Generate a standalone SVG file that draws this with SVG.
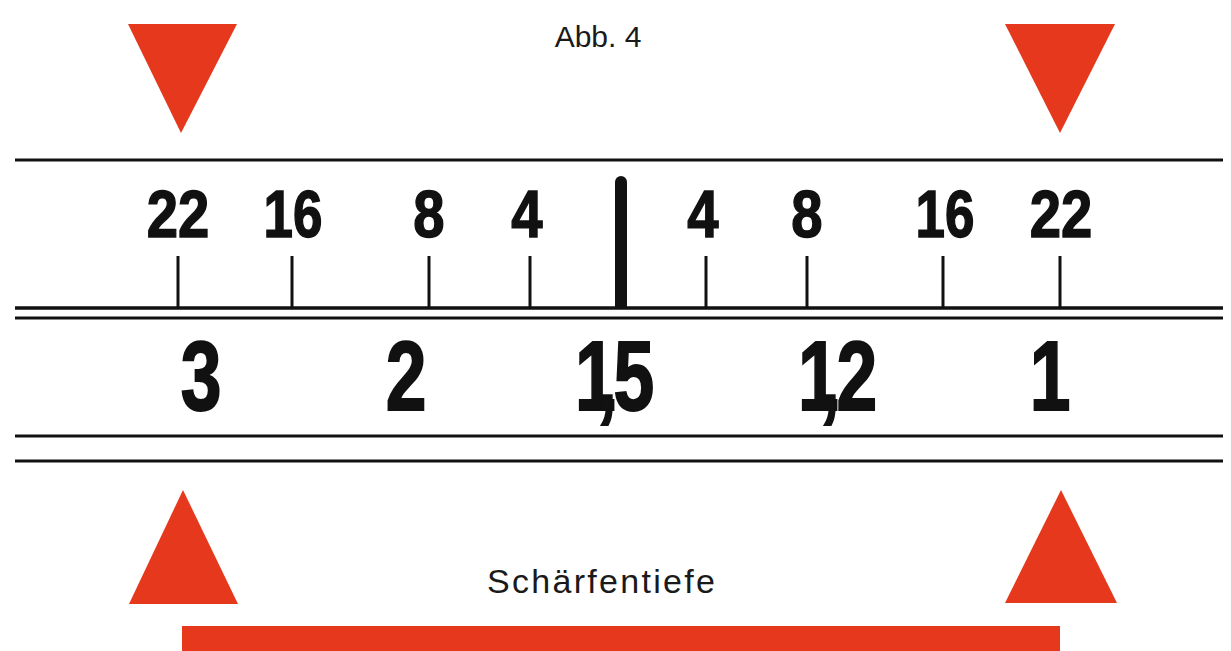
<svg xmlns="http://www.w3.org/2000/svg" width="1231" height="651" viewBox="0 0 1231 651">
<style>
.red{fill:#e5381c}
.ln{stroke:#111;stroke-width:3;fill:none}
.tk{stroke:#111;stroke-width:3}
.ap{font-family:"Liberation Sans",Arial,sans-serif;font-weight:bold;font-size:67px;fill:#111;stroke:#111;stroke-width:1.5;text-anchor:middle}
.dist{font-family:"Liberation Sans",Arial,sans-serif;font-weight:bold;font-size:99px;fill:#111;stroke:#111;stroke-width:2}
.lbl{font-family:"Liberation Sans",Arial,sans-serif;font-size:30px;fill:#1a1a1a;text-anchor:middle}
</style>
<rect width="1231" height="651" fill="#fff"/>
<g id="title"><text class="lbl" x="598" y="47">Abb. 4</text></g>
<g id="markers-top">
<polygon class="red" points="128,24 237,24 181,133"/>
<polygon class="red" points="1005,24 1115,24 1060,133"/>
</g>
<g id="scale-lines">
<line class="ln" x1="15" y1="160" x2="1223" y2="160"/>
<line class="ln" x1="15" y1="308" x2="1223" y2="308" style="stroke-width:3.5"/>
<line class="ln" x1="15" y1="318" x2="1223" y2="318"/>
<line class="ln" x1="15" y1="436" x2="1223" y2="436"/>
<line class="ln" x1="15" y1="461" x2="1223" y2="461"/>
</g>
<g id="ticks">
<line class="tk" x1="178" y1="256" x2="178" y2="308"/>
<line class="tk" x1="292" y1="256" x2="292" y2="308"/>
<line class="tk" x1="429" y1="256" x2="429" y2="308"/>
<line class="tk" x1="530" y1="256" x2="530" y2="308"/>
<line class="tk" x1="706" y1="256" x2="706" y2="308"/>
<line class="tk" x1="807" y1="256" x2="807" y2="308"/>
<line class="tk" x1="943" y1="256" x2="943" y2="308"/>
<line class="tk" x1="1060" y1="256" x2="1060" y2="308"/>
<path id="index" d="M615,308 V182 a6,6 0 0 1 12,0 V308 Z" fill="#111"/>
</g>
<g id="apertures">
<text class="ap" transform="translate(178,237) scale(0.84,1)">22</text>
<text class="ap" transform="translate(293,237) scale(0.79,1)">16</text>
<text class="ap" transform="translate(429,237) scale(0.84,1)">8</text>
<text class="ap" transform="translate(527,237) scale(0.84,1)">4</text>
<text class="ap" transform="translate(703,237) scale(0.84,1)">4</text>
<text class="ap" transform="translate(807,237) scale(0.84,1)">8</text>
<text class="ap" transform="translate(945,237) scale(0.79,1)">16</text>
<text class="ap" transform="translate(1061,237) scale(0.84,1)">22</text>
</g>
<g id="distances">
<text class="dist" text-anchor="middle" transform="translate(201,410) scale(0.74,1)">3</text>
<text class="dist" text-anchor="middle" transform="translate(406,410) scale(0.74,1)">2</text>
<text class="dist" x="0 29 52" y="0" transform="translate(575,410) scale(0.74,1)">1,5</text>
<text class="dist" x="0 29 52" y="0" transform="translate(798,410) scale(0.74,1)">1,2</text>
<text class="dist" text-anchor="middle" transform="translate(1050,410) scale(0.74,1)">1</text>
</g>
<g id="markers-bottom">
<polygon class="red" points="183,490 129,604 238,604"/>
<polygon class="red" points="1061,490 1005,603 1117,603"/>
</g>
<g id="depth-label"><text class="lbl" x="601" y="593" style="font-size:34px" textLength="228" lengthAdjust="spacing">Schärfentiefe</text></g>
<g id="depth-bar"><rect class="red" x="182" y="626" width="878" height="30"/></g>
</svg>
